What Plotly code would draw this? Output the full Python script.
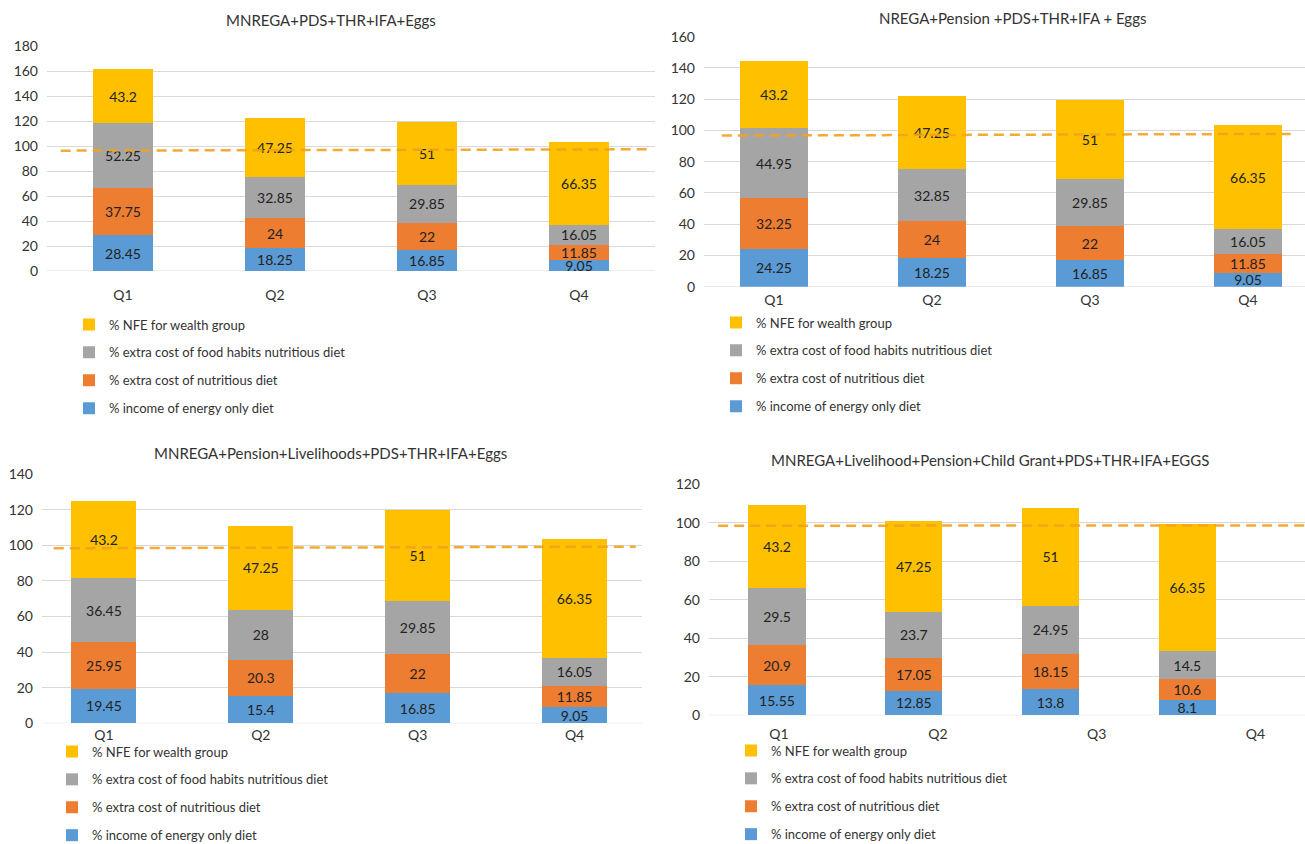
import plotly.graph_objects as go

# ---------------------------------------------------------------- data
quarters = ["Q1", "Q2", "Q3", "Q4"]

series_names = [
    "% income of energy only diet",
    "% extra cost of nutritious diet",
    "% extra cost of food habits nutritious diet",
    "% NFE for wealth group",
]

titles = [
    "MNREGA+PDS+THR+IFA+Eggs",
    "NREGA+Pension +PDS+THR+IFA + Eggs",
    "MNREGA+Pension+Livelihoods+PDS+THR+IFA+Eggs",
    "MNREGA+Livelihood+Pension+Child Grant+PDS+THR+IFA+EGGS",
]

# MNREGA+PDS+THR+IFA+Eggs
p1_energy = [28.45, 18.25, 16.85, 9.05]
p1_nutritious = [37.75, 24, 22, 11.85]
p1_habits = [52.25, 32.85, 29.85, 16.05]
p1_nfe = [43.2, 47.25, 51, 66.35]

# NREGA+Pension+PDS+THR+IFA+Eggs
p2_energy = [24.25, 18.25, 16.85, 9.05]
p2_nutritious = [32.25, 24, 22, 11.85]
p2_habits = [44.95, 32.85, 29.85, 16.05]
p2_nfe = [43.2, 47.25, 51, 66.35]

# MNREGA+Pension+Livelihoods+PDS+THR+IFA+Eggs
p3_energy = [19.45, 15.4, 16.85, 9.05]
p3_nutritious = [25.95, 20.3, 22, 11.85]
p3_habits = [36.45, 28, 29.85, 16.05]
p3_nfe = [43.2, 47.25, 51, 66.35]

# MNREGA+Livelihood+Pension+Child Grant+PDS+THR+IFA+EGGS
p4_energy = [15.55, 12.85, 13.8, 8.1]
p4_nutritious = [20.9, 17.05, 18.15, 10.6]
p4_habits = [29.5, 23.7, 24.95, 14.5]
p4_nfe = [43.2, 47.25, 51, 66.35]

# reference level (dashed line), value at its left and right end
p1_ref_level = [96.4, 97.5]
p2_ref_level = [96.7, 97.8]
p3_ref_level = [98.3, 99.2]
p4_ref_level = [98.5, 98.6]

y_max = [180, 160, 140, 120]

# ---------------------------------------------------------------- style
W, H = 1305, 844
FONT = "Lato, 'Open Sans', sans-serif"
TXT = "#333333"
GRID = "#D9D9D9"
colors = ["#5B9BD5", "#ED7D31", "#A5A5A5", "#FFC000"]
REF_COLOR = "#F2A21E"


def px_x(v):
    return v / W


def px_y(v):
    return 1 - v / H


# per panel layout: plot box (px), axis ranges, bar width, etc.
panels = [
    dict(box=(47, 655, 46.3, 271.0), xr=(-0.5, 3.5), bw=0.40, xstand=14,
         line_x=(-0.41, 3.45), leg=(69, 309.5), title=(331, 20)),
    dict(box=(704, 1305, 36.7, 286.7), xr=(-0.443, 3.361), bw=0.43, xstand=3,
         line_x=(-0.33, 3.27), leg=(716, 307.5), title=(1012, 18)),
    dict(box=(42, 642, 474.0, 723.3), xr=(-0.395, 3.43), bw=0.414, xstand=2,
         line_x=(-0.32, 3.39), leg=(52, 736.5), title=(330, 453)),
    dict(box=(709, 1305, 484.3, 715.3), xr=(-0.497, 3.86), bw=0.417, xstand=9,
         line_x=(-0.43, 3.86), leg=(731, 735.5), title=(990, 460),
         label_range=(-0.441, 3.312)),
]

panel_series = [
    [p1_energy, p1_nutritious, p1_habits, p1_nfe],
    [p2_energy, p2_nutritious, p2_habits, p2_nfe],
    [p3_energy, p3_nutritious, p3_habits, p3_nfe],
    [p4_energy, p4_nutritious, p4_habits, p4_nfe],
]
ref_levels = [p1_ref_level, p2_ref_level, p3_ref_level, p4_ref_level]

positions = list(range(len(quarters)))

fig = go.Figure()
layout = dict(
    width=W, height=H,
    margin=dict(l=0, r=0, t=0, b=0, autoexpand=False),
    paper_bgcolor="white", plot_bgcolor="white",
    barmode="stack",
    font=dict(family=FONT, size=13, color=TXT),
    showlegend=True,
    annotations=[],
    shapes=[],
)

for i, (cfg, series, ref) in enumerate(zip(panels, panel_series, ref_levels)):
    n = i + 1
    xa = "x" if n == 1 else f"x{n}"
    ya = "y" if n == 1 else f"y{n}"
    leg = "legend" if n == 1 else f"legend{n}"
    left, right, top, bottom = cfg["box"]

    for k, (name, vals) in enumerate(zip(series_names, series)):
        fig.add_trace(go.Bar(
            x=positions, y=vals, name=name,
            xaxis=xa, yaxis=ya, legend=leg,
            legendgroup=f"p{n}s{k}",
            legendrank=100 * (len(series_names) - k),
            width=cfg["bw"],
            marker=dict(color=colors[k], line=dict(width=0)),
            text=[f"{v:g}" for v in vals],
            textposition="inside", insidetextanchor="middle",
            constraintext="none",
            textfont=dict(family=FONT, size=14, color="#222222"),
            cliponaxis=False,
            hoverinfo="skip",
        ))

    fig.add_trace(go.Scatter(
        x=list(cfg["line_x"]), y=ref, mode="lines",
        xaxis=xa, yaxis=ya, showlegend=False, hoverinfo="skip",
        line=dict(color=REF_COLOR, width=2.5, dash="10px,6px"),
        opacity=0.9,
    ))

    show_x_labels = "label_range" not in cfg
    layout[f"xaxis{'' if n == 1 else n}"] = dict(
        domain=[px_x(left), px_x(right)], anchor=ya,
        range=list(cfg["xr"]), tickmode="array",
        tickvals=positions, ticktext=quarters,
        showticklabels=show_x_labels,
        showgrid=False, zeroline=False, showline=False,
        ticks="", ticklabelstandoff=cfg["xstand"],
        tickfont=dict(family=FONT, size=14, color=TXT),
        fixedrange=True,
    )
    layout[f"yaxis{'' if n == 1 else n}"] = dict(
        domain=[px_y(bottom), px_y(top)], anchor=xa,
        range=[0, y_max[i]], dtick=20, tick0=0,
        showgrid=True, gridcolor=GRID, gridwidth=1,
        zeroline=False, showline=False, ticks="",
        ticklabelstandoff=8,
        tickfont=dict(family=FONT, size=14, color=TXT),
        fixedrange=True,
    )
    # baseline of the category axis
    layout["shapes"].append(dict(
        type="line", xref=f"{xa} domain", yref=ya,
        x0=0, x1=1, y0=0, y1=0, line=dict(color=GRID, width=1), layer="below",
    ))

    if not show_x_labels:
        # quarter labels of this panel sit on their own, wider-spaced axis
        layout["xaxis5"] = dict(
            domain=[px_x(left), px_x(right)], anchor=ya, overlaying=xa,
            range=list(cfg["label_range"]), tickmode="array",
            tickvals=positions, ticktext=quarters,
            showgrid=False, zeroline=False, showline=False,
            ticks="", ticklabelstandoff=cfg["xstand"],
            tickfont=dict(family=FONT, size=14, color=TXT),
            fixedrange=True,
        )
        fig.add_trace(go.Scatter(
            x=positions, y=[0] * len(positions), mode="markers",
            xaxis="x5", yaxis=ya, showlegend=False, hoverinfo="skip",
            marker=dict(opacity=0, size=1),
        ))

    lx, ly = cfg["leg"]
    layout[leg] = dict(
        x=px_x(lx), y=px_y(ly), xanchor="left", yanchor="top",
        orientation="v", traceorder="grouped",
        tracegroupgap=8, bgcolor="rgba(0,0,0,0)",
        font=dict(family=FONT, size=13, color=TXT),
        itemclick=False, itemdoubleclick=False,
    )

    tx, ty = cfg["title"]
    layout["annotations"].append(dict(
        text=titles[i], xref="paper", yref="paper",
        x=px_x(tx), y=px_y(ty), xanchor="center", yanchor="middle",
        showarrow=False, font=dict(family=FONT, size=15, color=TXT),
    ))

fig.update_layout(**layout)
fig.write_html("out.html")
